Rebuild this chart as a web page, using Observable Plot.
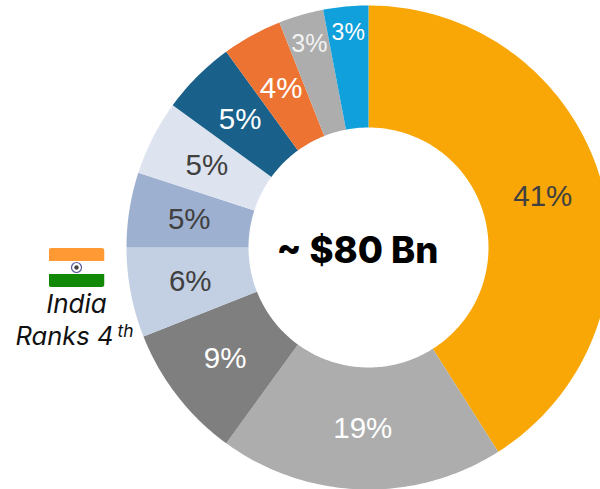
<!DOCTYPE html>
<html>
<head>
<meta charset="utf-8">
<script src="https://cdn.jsdelivr.net/npm/d3@7"></script>
<script src="https://cdn.jsdelivr.net/npm/@observablehq/plot@0.6"></script>
<style>
html,body{margin:0;padding:0;background:#fff;overflow:hidden}
svg{display:block}
</style>
</head>
<body>
<div id="chart"></div>
<script>
const shares = [41, 19, 9, 6, 5, 5, 5, 4, 3, 3];
const names = ["a", "b", "c", "d", "e", "f", "g", "h", "i", "j"];
const sliceColors = ["#F8A707", "#ADADAD", "#7F7F7F", "#C3CFE2", "#9DB0CF", "#DEE4EF", "#19618A", "#ED7332", "#ADADAD", "#10A0DB"];
const labelColors = ["#404040", "#FFFFFF", "#FFFFFF", "#404040", "#404040", "#404040", "#FFFFFF", "#FFFFFF", "#F2F2F2", "#FFFFFF"];
const labelSizes = [29.5, 29.5, 29.5, 29.5, 29.5, 29.5, 29.5, 29.5, 25, 23];
const centerLabel = "~ $80 Bn";

const CX = 368, CY = 247, R = 242, INNER = 120 / 242;
const labelRadii = [0.75, 0.75, 0.75, 0.75, 0.75, 0.75, 0.75, 0.75, 0.876, 0.89];

const pie = d3.pie().sort(null).value(d => d)(shares);
function ring(a0, a1) {
  const n = Math.max(2, Math.ceil((a1 - a0) * 60));
  const pts = [];
  for (let i = 0; i <= n; i++) {
    const a = a0 + (a1 - a0) * i / n;
    pts.push([Math.sin(a), Math.cos(a)]);
  }
  for (let i = n; i >= 0; i--) {
    const a = a0 + (a1 - a0) * i / n;
    pts.push([INNER * Math.sin(a), INNER * Math.cos(a)]);
  }
  pts.push(pts[0]);
  return pts;
}
const slices = {
  type: "FeatureCollection",
  features: pie.map((p, i) => ({
    type: "Feature",
    properties: {name: names[i], share: shares[i]},
    geometry: {type: "Polygon", coordinates: [ring(p.startAngle, p.endAngle)]}
  }))
};
const labels = pie.map((p, i) => {
  const a = (p.startAngle + p.endAngle) / 2;
  return {
    x: labelRadii[i] * Math.sin(a),
    y: labelRadii[i] * Math.cos(a),
    text: shares[i] + "%",
    color: labelColors[i],
    size: labelSizes[i]
  };
});

const px = x => (x - CX) / R;
const py = y => (CY - y) / R;

const flag = "data:image/svg+xml," + encodeURIComponent(
  `<svg xmlns="http://www.w3.org/2000/svg" width="56" height="39" viewBox="0 0 56 39">
  <clipPath id="c"><rect width="56" height="39" rx="3"/></clipPath>
  <g clip-path="url(#c)">
  <rect width="56" height="13" fill="#FF9933"/>
  <rect y="13" width="56" height="13" fill="#FFFFFF"/>
  <rect y="26" width="56" height="13" fill="#128807"/>
  </g>
  <circle cx="28" cy="19.5" r="5" fill="#fff" stroke="#5a5aa0" stroke-width="1.2"/>
  <circle cx="28" cy="19.5" r="2.2" fill="#444"/>
  </svg>`);

const plot = Plot.plot({
  width: 600,
  height: 489,
  margin: 0,
  style: {background: "#fff", overflow: "hidden"},
  projection: () => d3.geoIdentity().reflectY(true).scale(R).translate([CX, CY]),
  color: {type: "ordinal", domain: names, range: sliceColors},
  marks: [
    Plot.geo(slices, {fill: d => d.properties.name}),
    Plot.text(labels, {
      x: "x", y: "y", text: "text", fill: "color", fontSize: d => d.size,
      fontFamily: "Liberation Sans, Arial, sans-serif", textAnchor: "middle", lineAnchor: "middle"
    }),
    Plot.text([centerLabel], {
      x: px(357), y: py(251), text: d => d, fill: "#000",
      fontFamily: "Inter", fontWeight: 800, fontSize: 36.5
    }),
    Plot.image([0], {x: px(76), y: py(267), src: () => flag, width: 56, height: 39}),
    Plot.text(["India"], {
      x: px(76), y: py(304), text: d => d, fill: "#111",
      fontFamily: "Inter", fontStyle: "italic", fontSize: 26
    }),
    Plot.text(["Ranks 4"], {
      x: px(15), y: py(336), text: d => d, fill: "#111", textAnchor: "start",
      fontFamily: "Inter", fontStyle: "italic", fontSize: 25.5
    }),
    Plot.text(["th"], {
      x: px(117), y: py(331), text: d => d, fill: "#111", textAnchor: "start",
      fontFamily: "Inter", fontStyle: "italic", fontSize: 17.5
    })
  ]
});
document.getElementById("chart").append(plot);
</script>
</body>
</html>
